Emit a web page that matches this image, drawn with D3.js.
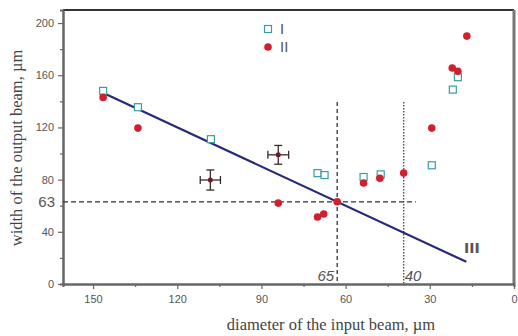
<!DOCTYPE html>
<html>
<head>
	<meta charset='utf-8'>
	<style>
		body { margin: 0; background: #fff; }
		svg { display: block; }
		.tick text { fill: #555; font-family: 'Liberation Sans', Arial, sans-serif; font-size: 11px; }
		.tick line { stroke: #666; stroke-width: 1.2px; }
		.domain { stroke: #666; stroke-width: 2px; }
		.title { fill: #444; font-family: 'Liberation Serif', 'Times New Roman', serif; font-size: 16.5px; }
		.leg { fill: #555; font-family: 'DejaVu Sans', sans-serif; font-size: 14px; }
		.note { fill: #555; font-family: 'Liberation Sans', Arial, sans-serif; font-size: 15px; }
	</style>
</head>
<body>
<script src='https://d3js.org/d3.v7.min.js'></script>
<script>
	'use strict';
	// серия I — открытые квадраты
	const seriesIx = [146.4, 134, 108, 70, 67.5, 53.6, 47.5, 29.3, 21.8, 20];
	const seriesIy = [148, 135.5, 111, 85, 83.5, 82, 84, 91, 149, 158.5];
	// серия II — красные точки
	const seriesIIx = [146.4, 134, 84, 70, 67.8, 63, 53.6, 47.8, 39.3, 29.3, 22, 20, 16.8];
	const seriesIIy = [143, 119.5, 62, 51.3, 53.6, 63, 77.4, 81, 85, 119.5, 165.5, 163, 190];
	// точки с погрешностями
	const errX = [108.2, 84];
	const errY = [79.7, 99];
	const errDx = [3.6, 3.7];
	const errDy = [7.7, 7.2];
	// линия III
	const lineX = [146.5, 17];
	const lineY = [146.5, 17];

	const xTicks = [150, 120, 90, 60, 30, 0];
	const xMinor = [135, 105, 75, 45, 15];
	const yTicks = [0, 40, 80, 120, 160, 200];
	const yMinor = [20, 60, 100, 140, 180];

	const W = 518, H = 336;
	const m = {left: 63, right: 514, top: 10, bottom: 284};

	const x = d3.scaleLinear().domain([160.7, 0]).range([m.left, m.right]);
	const y = d3.scaleLinear().domain([0, 210]).range([m.bottom, m.top]);

	const svg = d3.select('body').append('svg')
		.attr('width', W)
		.attr('height', H);

	// рамка сверху и справа
	svg.append('line').attr('x1', m.left).attr('x2', m.right).attr('y1', m.top).attr('y2', m.top)
		.attr('stroke', '#333').attr('stroke-width', 2);
	svg.append('line').attr('x1', m.right).attr('x2', m.right).attr('y1', m.top).attr('y2', m.bottom)
		.attr('stroke', '#777').attr('stroke-width', 3);

	// оси
	svg.append('g')
		.attr('transform', 'translate(0,' + m.bottom + ')')
		.call(d3.axisBottom(x).tickValues(xMinor).tickSize(3).tickFormat(''));
	svg.append('g')
		.attr('transform', 'translate(0,' + m.bottom + ')')
		.call(d3.axisBottom(x).tickValues(xTicks).tickSize(5).tickSizeOuter(0).tickPadding(6));
	svg.append('g')
		.attr('transform', 'translate(' + m.left + ',0)')
		.call(d3.axisLeft(y).tickValues(yMinor).tickSize(3).tickFormat(''));
	svg.append('g')
		.attr('transform', 'translate(' + m.left + ',0)')
		.call(d3.axisLeft(y).tickValues(yTicks).tickSize(5).tickSizeOuter(0).tickPadding(4));

	// пунктиры
	svg.append('line')
		.attr('x1', x(160.7)).attr('x2', x(35))
		.attr('y1', y(63)).attr('y2', y(63))
		.attr('stroke', '#333').attr('stroke-width', 1.3).attr('stroke-dasharray', '5,3');
	svg.append('line')
		.attr('x1', x(63)).attr('x2', x(63))
		.attr('y1', y(139.5)).attr('y2', y(0))
		.attr('stroke', '#333').attr('stroke-width', 1.3).attr('stroke-dasharray', '4,3');
	svg.append('line')
		.attr('x1', x(39.3)).attr('x2', x(39.3))
		.attr('y1', y(139.5)).attr('y2', y(0))
		.attr('stroke', '#444').attr('stroke-width', 1.3).attr('stroke-dasharray', '1.5,1.5');

	// линия
	svg.append('path')
		.datum(d3.zip(lineX, lineY))
		.attr('fill', 'none')
		.attr('stroke', '#262a78')
		.attr('stroke-width', 2.2)
		.attr('d', d3.line().x(d => x(d[0])).y(d => y(d[1])));

	// погрешности
	const err = svg.append('g').attr('stroke', '#3a2a2a').attr('stroke-width', 1.3);
	errX.forEach((v, i) => {
		const cx = x(v), cy = y(errY[i]);
		const x1 = x(v + errDx[i]), x2 = x(v - errDx[i]);
		const y1 = y(errY[i] + errDy[i]), y2 = y(errY[i] - errDy[i]);
		err.append('line').attr('x1', x1).attr('x2', x2).attr('y1', cy).attr('y2', cy);
		err.append('line').attr('x1', cx).attr('x2', cx).attr('y1', y1).attr('y2', y2);
		err.append('line').attr('x1', cx - 4).attr('x2', cx + 4).attr('y1', y1).attr('y2', y1);
		err.append('line').attr('x1', cx - 4).attr('x2', cx + 4).attr('y1', y2).attr('y2', y2);
		err.append('line').attr('x1', x1).attr('x2', x1).attr('y1', cy - 4).attr('y2', cy + 4);
		err.append('line').attr('x1', x2).attr('x2', x2).attr('y1', cy - 4).attr('y2', cy + 4);
		err.append('circle').attr('cx', cx).attr('cy', cy).attr('r', 2.5)
			.attr('fill', '#6a1a2a').attr('stroke', 'none');
	});

	// серия I
	svg.append('g').selectAll('rect')
		.data(d3.zip(seriesIx, seriesIy))
		.enter().append('rect')
		.attr('x', d => x(d[0]) - 3.5)
		.attr('y', d => y(d[1]) - 3.5)
		.attr('width', 7).attr('height', 7)
		.attr('fill', '#fff')
		.attr('stroke', '#3a9ea0')
		.attr('stroke-width', 1.2);

	// серия II
	svg.append('g').selectAll('circle')
		.data(d3.zip(seriesIIx, seriesIIy))
		.enter().append('circle')
		.attr('cx', d => x(d[0]))
		.attr('cy', d => y(d[1]))
		.attr('r', 3.8)
		.attr('fill', '#d0202e');

	// легенда
	svg.append('rect').attr('x', 264.5).attr('y', 25.5).attr('width', 7).attr('height', 7)
		.attr('fill', '#fff').attr('stroke', '#3a9ea0').attr('stroke-width', 1.2);
	svg.append('text').attr('class', 'leg').attr('x', 280).attr('y', 34).text('I');
	svg.append('circle').attr('cx', 268).attr('cy', 47).attr('r', 3.8).attr('fill', '#d0202e');
	svg.append('text').attr('class', 'leg').attr('x', 280).attr('y', 52).text('II');

	// подписи
	svg.append('text').attr('class', 'note').attr('x', 55).attr('y', y(63) + 5)
		.attr('text-anchor', 'end').attr('fill', '#666').text('63');
	svg.append('text').attr('class', 'note').attr('x', x(63) - 3).attr('y', 281)
		.attr('text-anchor', 'end').attr('font-style', 'italic').text('65');
	svg.append('text').attr('class', 'note').attr('x', x(39.3) + 1).attr('y', 281)
		.attr('font-style', 'italic').text('40');
	svg.append('text').attr('class', 'leg').attr('x', 464).attr('y', 253)
		.attr('fill', '#777').attr('font-weight', 'bold').attr('font-size', 14).text('III');

	svg.append('text').attr('class', 'title')
		.attr('x', 331).attr('y', 330)
		.attr('text-anchor', 'middle')
		.text('diameter of the input beam, \u00b5m');
	svg.append('text').attr('class', 'title')
		.attr('transform', 'translate(22,148) rotate(-90)')
		.attr('text-anchor', 'middle')
		.text('width of the output beam, \u00b5m');
</script>
</body>
</html>
